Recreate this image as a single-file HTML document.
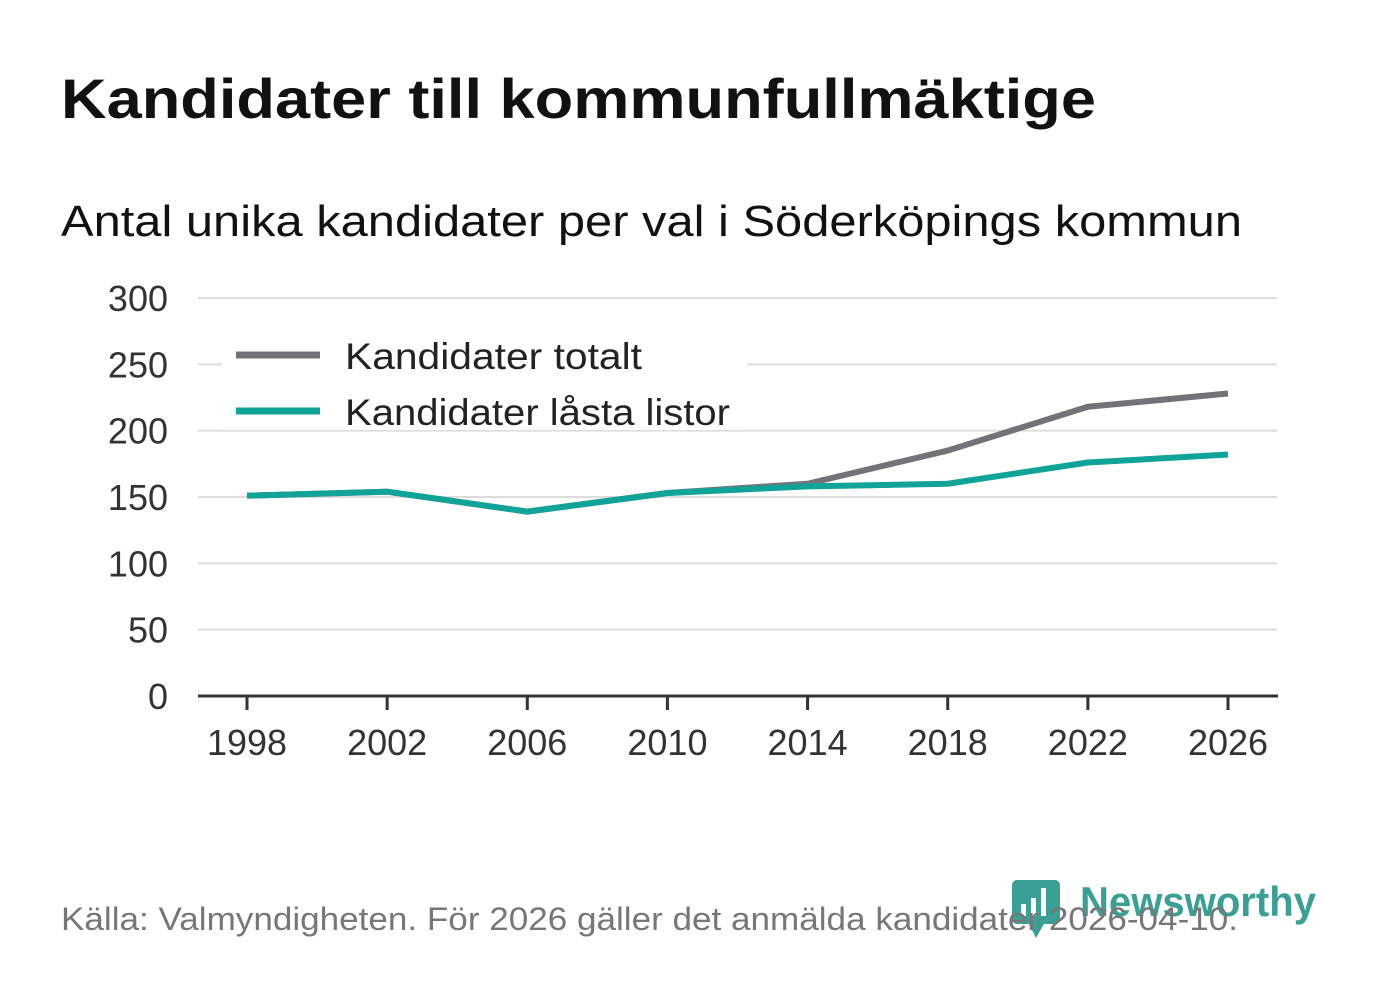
<!DOCTYPE html>
<html><head><meta charset="utf-8"><style>
body{margin:0;background:#fff;width:1382px;height:999px;overflow:hidden;font-family:"Liberation Sans",sans-serif}
</style></head><body>
<svg id="c" width="1382" height="999" xmlns="http://www.w3.org/2000/svg">
<text x="61" y="118" font-size="56" font-weight="bold" fill="#111" textLength="1035" lengthAdjust="spacingAndGlyphs">Kandidater till kommunfullmäktige</text>
<text x="61" y="236" font-size="44" fill="#111" textLength="1181" lengthAdjust="spacingAndGlyphs">Antal unika kandidater per val i Söderköpings kommun</text>
<g id="grid"></g><g id="lines"></g>
<g>
<rect x="222" y="330" width="525" height="100" fill="#fff"/>
<line x1="236" y1="355" x2="320" y2="355" stroke="#737278" stroke-width="7"/>
<text x="345" y="369" font-size="37" fill="#222" textLength="297" lengthAdjust="spacingAndGlyphs">Kandidater totalt</text>
<line x1="236" y1="411" x2="320" y2="411" stroke="#10a398" stroke-width="7"/>
<text x="345" y="425" font-size="37" fill="#222" textLength="385" lengthAdjust="spacingAndGlyphs">Kandidater låsta listor</text>
</g>
<g>
<rect x="1012" y="880" width="48" height="44" rx="5" fill="#3aa096"/>
<polygon points="1028,922 1045,922 1036,938" fill="#3aa096"/>
<rect x="1021" y="904" width="5" height="12" fill="#fff"/><rect x="1031" y="898" width="5" height="18" fill="#fff"/><rect x="1041" y="888" width="5" height="28" fill="#fff"/>
<text x="1080" y="916" font-size="42" font-weight="bold" fill="#3aa096" textLength="236" lengthAdjust="spacingAndGlyphs">Newsworthy</text>
</g>
<text x="61" y="930" font-size="32" fill="#777" textLength="1177" lengthAdjust="spacingAndGlyphs">Källa: Valmyndigheten. För 2026 gäller det anmälda kandidater 2026-04-10.</text>
</svg>
<script>
const years=[1998,2002,2006,2010,2014,2018,2022,2026];
const totalt=[151,154,139,153,160,185,218,228];
const lasta=[151,154,139,153,158,160,176,182];
const yTicks=[0,50,100,150,200,250,300];
const ns="http://www.w3.org/2000/svg";
const X=v=>247+(v-1998)*(1228-247)/28, Y=v=>696-v*(696-298)/300;
const grid=document.getElementById('grid'),lines=document.getElementById('lines');
function mk(t,a,p){const e=document.createElementNS(ns,t);for(const k in a)e.setAttribute(k,a[k]);p.appendChild(e);return e;}
yTicks.forEach(v=>{
 if(v>0){const l=mk('line',{x1:198,x2:1277,y1:Y(v),y2:Y(v),stroke:'#ddd','stroke-width':2},grid);
 
 }
 const t=mk('text',{x:168,y:Y(v)+13,'font-size':36,fill:'#333','text-anchor':'end'},grid);t.textContent=v;
 
 
});
const ax=mk('line',{x1:198,x2:1278,y1:696,y2:696,stroke:'#333','stroke-width':3},grid);


years.forEach(y=>{
 const tk=mk('line',{x1:X(y),x2:X(y),y1:696,y2:710,stroke:'#333','stroke-width':3},grid);
 
 
 const t=mk('text',{x:X(y),y:755,'font-size':36,fill:'#333','text-anchor':'middle'},grid);t.textContent=y;
 
 
});
[[totalt,'#737278','line-totalt'],[lasta,'#10a398','line-lasta']].forEach(([d,c,n])=>{
 const p=mk('polyline',{points:d.map((v,i)=>X(years[i])+','+Y(v)).join(' '),fill:'none',stroke:c,'stroke-width':6,'stroke-linejoin':'round'},lines);
 
 
});
</script>
</body></html>
